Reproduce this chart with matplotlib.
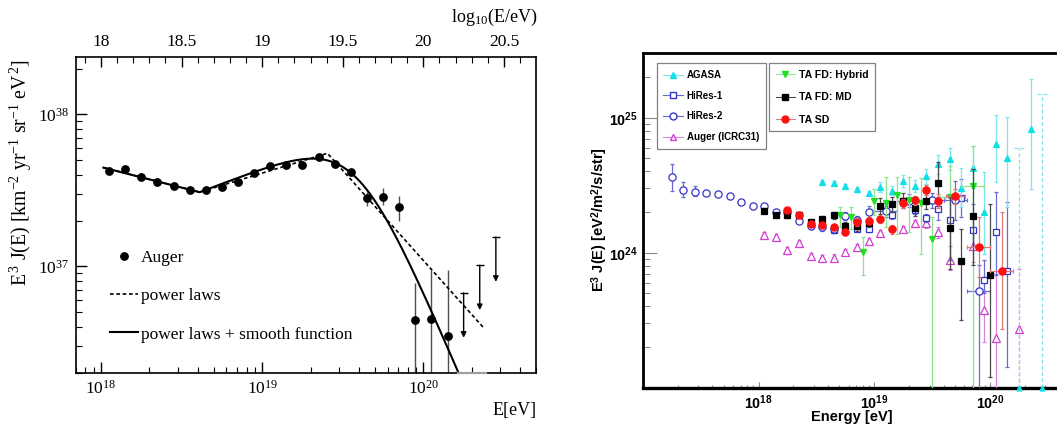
import numpy as np
import matplotlib
matplotlib.use("Agg")
import matplotlib.pyplot as plt
from matplotlib.lines import Line2D
from matplotlib.ticker import FuncFormatter, LogLocator, NullFormatter, FixedLocator
import matplotlib.transforms as mtransforms

W, H = 1057, 425
plt.rcParams.update({
    "font.family": "Liberation Serif",
    "mathtext.fontset": "custom",
    "mathtext.rm": "Liberation Serif",
    "mathtext.it": "Liberation Serif:italic",
    "mathtext.bf": "Liberation Serif:bold",
    "mathtext.sf": "Liberation Sans:bold",
})

# ---------------------------------------------------------------
# Left panel: Auger spectrum, E^3 J(E) in units of 1e37 km^-2 yr^-1 sr^-1 eV^2
# ---------------------------------------------------------------
auger_logE = [18.05, 18.15, 18.25, 18.35, 18.45, 18.55, 18.65, 18.75, 18.85, 18.95,
              19.05, 19.15, 19.25, 19.35, 19.45, 19.55, 19.65, 19.75, 19.85, 19.95,
              20.05, 20.15]
auger_flux = [4.27, 4.36, 3.90, 3.58, 3.40, 3.18, 3.20, 3.35, 3.58, 4.14,
              4.60, 4.62, 4.65, 5.27, 4.74, 4.20, 2.81, 2.88, 2.44, 0.441,
              0.452, 0.346]
auger_lo = [4.19, 4.28, 3.83, 3.51, 3.34, 3.12, 3.14, 3.29, 3.52, 4.07,
            4.53, 4.55, 4.58, 5.18, 4.66, 4.11, 2.48, 2.54, 2.00, 0.0,
            0.0, 0.0]
auger_hi = [4.35, 4.44, 3.97, 3.65, 3.46, 3.24, 3.26, 3.41, 3.64, 4.21,
            4.67, 4.69, 4.72, 5.36, 4.82, 4.29, 3.10, 3.27, 2.91, 0.778,
            0.951, 0.951]
auger_ul_logE = [20.25, 20.35, 20.45]
auger_ul = [0.668, 1.016, 1.56]

# broken power law: break points of the dashed line
bpl_logE = [18.015, 18.612, 19.405, 20.374]
bpl_flux = [4.47, 3.08, 5.55, 0.394]

# power laws + smooth suppression
ankle_logE = 18.612
ankle_flux = 3.08
gamma1 = 3.27
gamma2 = 2.59
logE_half = 19.582
log_wc = 0.15
fit_logE_range = (18.015, 20.39)

left_xticks_top = [18, 18.5, 19, 19.5, 20, 20.5]

# ---------------------------------------------------------------
# Right panel: E^3 J(E) in units of 1e24 eV^2 m^-2 s^-1 sr^-1
# ---------------------------------------------------------------
agasa_logE = [18.55, 18.65, 18.75, 18.85, 18.95, 19.05, 19.15, 19.25, 19.35, 19.45,
              19.55, 19.65, 19.75, 19.85, 19.95, 20.05, 20.15, 20.35]
agasa_val = [3.36, 3.28, 3.12, 2.94, 2.78, 3.06, 2.86, 3.40, 3.10, 3.67,
             4.56, 4.97, 3.01, 4.24, 2.00, 6.42, 5.06, 8.30]
agasa_hi = [3.45, 3.37, 3.21, 3.04, 2.88, 3.34, 3.12, 3.74, 3.43, 4.19,
            5.32, 6.00, 4.26, 6.13, 3.96, 10.4, 10.1, 19.5]
agasa_lo = [3.27, 3.19, 3.03, 2.84, 2.68, 2.81, 2.66, 3.06, 2.81, 3.24,
            3.85, 4.10, 2.18, 3.00, 0.98, 3.34, 2.18, 2.98]
agasa_ul_logE = [20.25, 20.45]
agasa_ul = [6.0, 15.1]

hires1_logE = [18.65, 18.85, 18.95, 19.15, 19.25, 19.35, 19.45, 19.55, 19.65, 19.75,
               19.85, 19.95, 20.05, 20.15]
hires1_val = [1.48, 1.51, 1.49, 1.89, 2.42, 2.06, 1.81, 2.12, 1.75, 2.55,
              1.48, 0.63, 1.42, 0.73]
hires1_hi = [1.55, 1.58, 1.56, 2.00, 2.55, 2.20, 1.95, 2.58, 2.74, 3.53,
             2.31, 0.88, 2.81, 2.37]
hires1_lo = [1.41, 1.44, 1.42, 1.78, 2.30, 1.93, 1.68, 1.74, 0.88, 1.84,
             1.10, 0.50, 0.68, 0.142]

hires2_logE = [17.25, 17.35, 17.45, 17.55, 17.65, 17.75, 17.85, 17.95, 18.05, 18.15,
               18.25, 18.35, 18.45, 18.55, 18.65, 18.75, 18.85, 18.95, 19.1, 19.3,
               19.5, 19.7, 19.9]
hires2_val = [3.61, 2.92, 2.84, 2.78, 2.72, 2.63, 2.38, 2.23, 2.22, 1.99,
              2.00, 1.73, 1.59, 1.55, 1.50, 1.87, 1.75, 1.99, 2.02, 2.42,
              2.44, 2.47, 0.52]
hires2_hi = [4.56, 3.34, 3.12, 2.90, 2.83, 2.72, 2.46, 2.31, 2.30, 2.07,
             2.08, 1.81, 1.67, 1.64, 1.60, 2.00, 1.88, 2.20, 2.20, 2.70,
             2.75, 3.40, 0.81]
hires2_lo = [2.86, 2.58, 2.61, 2.67, 2.62, 2.54, 2.30, 2.15, 2.14, 1.91,
             1.92, 1.65, 1.51, 1.46, 1.41, 1.74, 1.62, 1.80, 1.85, 2.17,
             2.14, 1.75, 0.0]
hires2_dlogE = [0, 0, 0, 0, 0, 0, 0, 0, 0, 0,
                0, 0, 0, 0, 0, 0, 0, 0, 0.1, 0.1,
                0.1, 0.1, 0.1]

augicrc_logE = [18.05, 18.15, 18.25, 18.35, 18.45, 18.55, 18.65, 18.75, 18.85, 18.95,
                19.05, 19.25, 19.35, 19.45, 19.55, 19.65, 19.85, 19.95, 20.05]
augicrc_val = [1.36, 1.31, 1.04, 1.19, 0.94, 0.91, 0.92, 1.01, 1.11, 1.23,
               1.40, 1.50, 1.66, 1.65, 1.42, 0.88, 1.13, 0.378, 0.234]
augicrc_hi = [1.42, 1.37, 1.10, 1.25, 0.99, 0.96, 0.97, 1.06, 1.16, 1.29,
              1.47, 1.58, 1.76, 1.78, 1.55, 1.12, 1.45, 0.66, 0.70]
augicrc_lo = [1.30, 1.25, 0.98, 1.13, 0.89, 0.86, 0.87, 0.96, 1.06, 1.17,
              1.33, 1.42, 1.56, 1.52, 1.29, 0.74, 0.85, 0.218, 0.0]
augicrc_zero_logE = [20.25]
augicrc_zero_val = [0.274]
augicrc_zero_hi = [0.76]

tahyb_logE = [18.7, 18.8, 18.9, 19.0, 19.1, 19.2, 19.3, 19.4, 19.5, 19.65, 19.85]
tahyb_val = [1.89, 1.84, 1.01, 2.40, 2.35, 2.69, 2.47, 2.33, 1.27, 2.58, 3.12]
tahyb_hi = [2.18, 2.18, 1.31, 2.98, 3.63, 3.63, 3.63, 3.60, 1.84, 4.38, 6.13]
tahyb_lo = [1.55, 1.51, 0.68, 1.89, 1.55, 1.38, 1.42, 0.98, 0.0, 1.55, 0.0]
tahyb_dlogE = [0, 0, 0, 0, 0, 0, 0, 0, 0, 0.085, 0.1]

tamd_logE = [18.05, 18.15, 18.25, 18.35, 18.45, 18.55, 18.65, 18.75, 18.85, 18.95,
             19.05, 19.15, 19.25, 19.35, 19.45, 19.55, 19.65, 19.75, 19.85, 20.0]
tamd_val = [2.05, 1.90, 1.89, 1.91, 1.69, 1.79, 1.89, 1.58, 1.57, 1.67,
            2.23, 2.29, 2.43, 2.14, 2.43, 3.28, 1.53, 0.87, 1.86, 0.684]
tamd_hi = [2.13, 1.98, 1.97, 1.99, 1.77, 1.88, 1.99, 1.68, 1.68, 1.80,
           2.55, 2.60, 2.75, 2.45, 2.80, 4.70, 2.58, 1.51, 4.19, 2.28]
tamd_lo = [1.97, 1.82, 1.81, 1.83, 1.61, 1.70, 1.79, 1.48, 1.46, 1.54,
           1.95, 2.00, 2.15, 1.86, 2.10, 2.44, 0.76, 0.316, 0.81, 0.120]

tasd_logE = [18.25, 18.35, 18.45, 18.55, 18.65, 18.75, 18.85, 18.95, 19.05, 19.15,
             19.25, 19.35, 19.45, 19.55, 19.7, 19.9, 20.1]
tasd_val = [2.07, 1.89, 1.64, 1.60, 1.54, 1.42, 1.68, 1.73, 1.77, 1.49,
            2.33, 2.44, 2.93, 2.43, 2.63, 1.11, 0.73]
tasd_hi = [2.15, 1.97, 1.71, 1.67, 1.61, 1.49, 1.77, 1.83, 1.88, 1.60,
           2.50, 2.62, 3.20, 2.70, 2.95, 1.84, 2.00]
tasd_lo = [1.99, 1.81, 1.57, 1.53, 1.47, 1.35, 1.59, 1.63, 1.66, 1.38,
           2.16, 2.26, 2.66, 2.16, 2.31, 0.66, 0.274]
tasd_dlogE = [0, 0, 0, 0, 0, 0, 0, 0, 0, 0,
              0, 0, 0, 0, 0.08, 0.1, 0.1]

legend1_labels = ["AGASA", "HiRes-1", "HiRes-2", "Auger (ICRC31)"]
legend2_labels = ["TA FD: Hybrid", "TA FD: MD", "TA SD"]

# ---------------------------------------------------------------
fig = plt.figure(figsize=(W / 100, H / 100), dpi=100)


def px_axes(left, top, right, bottom):
    return fig.add_axes([left / W, 1 - bottom / H, (right - left) / W, (bottom - top) / H])


# ======================= left panel =======================
ax1 = px_axes(76, 56.7, 536, 372.5)
ax1.set_xscale("log")
ax1.set_yscale("log")
ax1.set_xlim(7e17, 5e20)
ax1.set_ylim(2e36, 2.4e38)
ymin1 = ax1.get_ylim()[0]

E = 10 ** np.array(auger_logE)
F = np.array(auger_flux) * 1e37
lo = np.array(auger_lo) * 1e37
lo = np.where(lo > 0, lo, 1e30)
hi = np.array(auger_hi) * 1e37
ax1.errorbar(E, F, yerr=[F - lo, hi - F], fmt="none", ecolor="#505050",
             elinewidth=1.0, capsize=0, zorder=2)
ax1.plot(E, F, "o", color="k", ms=5.3, zorder=4)

# upper limits with downward arrows
ARROW_DEX = 0.295
for lg, ul in zip(auger_ul_logE, auger_ul):
    e = 10 ** lg
    v = ul * 1e37
    ax1.annotate("", xy=(e, v * 10 ** (-ARROW_DEX)), xytext=(e, v),
                 arrowprops=dict(arrowstyle="-|>", color="k", lw=1.0,
                                 shrinkA=0, shrinkB=0, mutation_scale=8))
    ax1.plot([e], [v], marker="_", ms=6, mew=1.0, color="k")

# broken power law
ax1.plot(10 ** np.array(bpl_logE), np.array(bpl_flux) * 1e37, color="k",
         lw=1.2, ls=(0, (2.2, 1.6)), zorder=3)


def smooth_model(lg):
    slope = np.where(lg < ankle_logE, 3 - gamma1, 3 - gamma2)
    base = ankle_flux * 10 ** (slope * (lg - ankle_logE))
    return base / (1 + np.exp((lg - logE_half) / log_wc))


lg = np.linspace(*fit_logE_range, 800)
fv = smooth_model(lg) * 1e37
inside = fv >= ymin1
ax1.plot(10 ** lg[inside], fv[inside], color="k", lw=1.5, zorder=3)
ax1.plot(10 ** lg[~inside], np.full((~inside).sum(), ymin1), color="#a0a0a0",
         lw=1.6, zorder=5, clip_on=False)

dec_fmt_serif = FuncFormatter(lambda v, p: r"$\mathrm{10^{%d}}$" % round(np.log10(v)))
ax1.xaxis.set_major_locator(LogLocator(base=10))
ax1.xaxis.set_minor_locator(LogLocator(base=10, subs=np.arange(2, 10)))
ax1.xaxis.set_major_formatter(dec_fmt_serif)
ax1.xaxis.set_minor_formatter(NullFormatter())
ax1.yaxis.set_major_locator(LogLocator(base=10))
ax1.yaxis.set_minor_locator(LogLocator(base=10, subs=np.arange(2, 10)))
ax1.yaxis.set_major_formatter(dec_fmt_serif)
ax1.yaxis.set_minor_formatter(NullFormatter())
ax1.tick_params(which="both", direction="in", top=False, right=False, labelsize=12.5)
ax1.tick_params(which="major", length=8, width=1.0, pad=5)
ax1.tick_params(which="minor", length=4, width=0.8)
for s in ax1.spines.values():
    s.set_linewidth(1.2)

# top axis in log10(E/eV)
axt = ax1.twiny()
axt.set_xscale("log")
axt.set_xlim(ax1.get_xlim())
axt.xaxis.set_major_locator(FixedLocator(10 ** np.array(left_xticks_top)))
axt.xaxis.set_minor_locator(FixedLocator(10 ** np.arange(17.9, 20.75, 0.1)))
axt.xaxis.set_major_formatter(FuncFormatter(lambda v, p: "%g" % round(np.log10(v), 1)))
axt.xaxis.set_minor_formatter(NullFormatter())
axt.tick_params(which="both", direction="in", labelsize=12.5)
axt.tick_params(which="major", length=7, width=1.0, pad=5)
axt.tick_params(which="minor", length=4, width=0.8)
for s in axt.spines.values():
    s.set_visible(False)

fig.text(537 / W, 1 - 17 / H, r"log$_{\mathrm{10}}$(E/eV)", ha="right", va="center",
         fontsize=13)
fig.text(537 / W, 1 - 411 / H, "E[eV]", ha="right", va="center", fontsize=13)
fig.text(21 / W, 1 - 173 / H,
         r"E$^{\mathrm{\,3}}$ J(E) [km$^{\mathrm{-2}}$ yr$^{\mathrm{-1}}$ sr$^{\mathrm{-1}}$ eV$^{\mathrm{\,2}}$]",
         rotation=90, ha="center", va="center", fontsize=14.2)

leg_left = ax1.legend(
    [Line2D([], [], ls="none", marker="o", color="k", ms=5.3),
     Line2D([], [], color="k", lw=1.2, ls=(0, (2.2, 1.6))),
     Line2D([], [], color="k", lw=1.5)],
    ["Auger", "power laws", "power laws + smooth function"],
    loc="upper left", bbox_to_anchor=(110 / W, 1 - 250 / H), bbox_transform=fig.transFigure,
    frameon=False, fontsize=12.5, handlelength=1.6, handletextpad=0.2,
    labelspacing=1.27, borderpad=0, borderaxespad=0)

# ======================= right panel =======================
ax2 = px_axes(642.7, 53.3, 1061, 387.7)
ax2.set_xscale("log")
ax2.set_yscale("log")
ax2.set_xlim(1e17, 10 ** 20.612)
ax2.set_ylim(1e23, 3e25)
UNIT = 1e24


def draw_series(logE, val, lo, hi, color, ecolor, marker, filled, ms,
                dlogE=None, z=3, dashed=False):
    lgE = np.asarray(logE, dtype=float)
    e = 10 ** lgE
    v = np.asarray(val) * UNIT
    l = np.asarray(lo) * UNIT
    l = np.where(l > 0, l, 1e18)
    h = np.asarray(hi) * UNIT
    xerr = None
    if dlogE is not None:
        d = np.asarray(dlogE, dtype=float)
        xerr = [e - 10 ** (lgE - d), 10 ** (lgE + d) - e]
    cont = ax2.errorbar(e, v, yerr=[v - l, h - v], xerr=xerr, fmt="none",
                        ecolor=ecolor, elinewidth=0.9, capsize=1.6, capthick=0.9,
                        zorder=z)
    if dashed:
        for bc in cont[2]:
            bc.set_linestyle((0, (3, 2)))
    ax2.plot(e, v, ls="none", marker=marker, ms=ms,
             mfc=color if filled else "white", mec=color, mew=0.9, zorder=z + 0.5)


C_AGASA, E_AGASA = "#12e0e6", "#7ee6ea"
C_HIRES, E_HIRES = "#3434c8", "#6a6ad0"
C_AUG, E_AUG = "#d43cd4", "#dc82dc"
C_HYB, E_HYB = "#22dd22", "#8ee48e"
C_MD, E_MD = "#000000", "#4a4a4a"
C_SD, E_SD = "#ff1010", "#e07a7a"

draw_series(augicrc_logE, augicrc_val, augicrc_lo, augicrc_hi, C_AUG, E_AUG, "^", False, 5.2, z=3)
draw_series(augicrc_zero_logE, augicrc_zero_val, [0.0], augicrc_zero_hi, C_AUG, E_AUG,
            "^", False, 5.2, z=3, dashed=True)
draw_series(hires1_logE, hires1_val, hires1_lo, hires1_hi, C_HIRES, E_HIRES, "s", False, 5.0, z=4)
draw_series(hires2_logE, hires2_val, hires2_lo, hires2_hi, C_HIRES, E_HIRES, "o", False, 5.2,
            dlogE=hires2_dlogE, z=4)
draw_series(agasa_logE, agasa_val, agasa_lo, agasa_hi, C_AGASA, E_AGASA, "^", True, 4.6, z=5)
draw_series(tahyb_logE, tahyb_val, tahyb_lo, tahyb_hi, C_HYB, E_HYB, "v", True, 4.8,
            dlogE=tahyb_dlogE, z=6)
draw_series(tamd_logE, tamd_val, tamd_lo, tamd_hi, C_MD, E_MD, "s", True, 4.8, z=7)
draw_series(tasd_logE, tasd_val, tasd_lo, tasd_hi, C_SD, E_SD, "o", True, 5.2,
            dlogE=tasd_dlogE, z=8)

# AGASA bins without events: dashed bars up to the limit, marker on the frame
bottom_tr = mtransforms.blended_transform_factory(ax2.transData, ax2.transAxes)
for lgv, ul in zip(agasa_ul_logE, agasa_ul):
    e = 10 ** lgv
    ax2.vlines(e, ax2.get_ylim()[0], ul * UNIT, colors=E_AGASA, lw=0.9,
               linestyles=(0, (3, 2)), zorder=5)
    ax2.hlines(ul * UNIT, 10 ** (lgv - 0.043), 10 ** (lgv + 0.043), colors=E_AGASA,
               lw=0.9, linestyles=(0, (3, 2)), zorder=5)
    ax2.plot([e], [0], transform=bottom_tr, marker="^", ms=3.5, color=C_AGASA,
             clip_on=False, zorder=5)

x_fmt_sans = FuncFormatter(
    lambda v, p: (r"$\mathsf{10^{%d}}$" % round(np.log10(v))) if v > 5e17 else "")
y_fmt_sans = FuncFormatter(
    lambda v, p: (r"$\mathsf{10^{%d}}$" % round(np.log10(v))) if v > 5e23 else "")
ax2.xaxis.set_major_locator(LogLocator(base=10))
ax2.xaxis.set_minor_locator(LogLocator(base=10, subs=np.arange(2, 10)))
ax2.xaxis.set_major_formatter(x_fmt_sans)
ax2.xaxis.set_minor_formatter(NullFormatter())
ax2.yaxis.set_major_locator(LogLocator(base=10))
ax2.yaxis.set_minor_locator(LogLocator(base=10, subs=np.arange(2, 10)))
ax2.yaxis.set_major_formatter(y_fmt_sans)
ax2.yaxis.set_minor_formatter(NullFormatter())
ax2.tick_params(which="both", direction="in", top=False, right=False, labelsize=10.3,
                color="#8a8a8a")
ax2.tick_params(axis="x", which="major", length=4.5, width=0.8, pad=4)
ax2.tick_params(axis="x", which="minor", length=2.5, width=0.8)
ax2.tick_params(axis="y", which="major", length=10, width=0.8, pad=3.4)
ax2.tick_params(axis="y", which="minor", length=5, width=0.8)
for s in ax2.spines.values():
    s.set_linewidth(2.0)
ax2.spines["bottom"].set_linewidth(2.4)

fig.text(852 / W, 1 - 417 / H, "Energy [eV]", ha="center", va="center",
         family="Liberation Sans", weight="bold", fontsize=10.5)
fig.text(599.5 / W, 1 - 220 / H,
         r"E$^{\mathsf{3}}$ J(E) [eV$^{\mathsf{2}}$/m$^{\mathsf{2}}$/s/str]",
         rotation=90, ha="center", va="center", family="Liberation Sans",
         weight="bold", fontsize=10.5)

h1 = [Line2D([], [], color=E_AGASA, lw=0.8, marker="^", ms=4.6, mfc=C_AGASA, mec=C_AGASA),
      Line2D([], [], color=E_HIRES, lw=0.8, marker="s", ms=5.0, mfc="white", mec=C_HIRES),
      Line2D([], [], color=E_HIRES, lw=0.8, marker="o", ms=5.0, mfc="white", mec=C_HIRES),
      Line2D([], [], color=E_AUG, lw=0.8, marker="^", ms=5.0, mfc="white", mec=C_AUG)]
h2 = [Line2D([], [], color=E_HYB, lw=0.8, marker="v", ms=4.8, mfc=C_HYB, mec=C_HYB),
      Line2D([], [], color=E_MD, lw=0.8, marker="s", ms=4.8, mfc=C_MD, mec=C_MD),
      Line2D([], [], color=E_SD, lw=0.8, marker="o", ms=5.0, mfc=C_SD, mec=C_SD)]

leg_prop1 = dict(family="Liberation Sans", weight="bold", size=7)
leg_prop2 = dict(family="Liberation Sans", weight="bold", size=7.6)
leg1 = ax2.legend(h1, legend1_labels, loc="upper left",
                  bbox_to_anchor=(656.7 / W, 1 - 63.3 / H), bbox_transform=fig.transFigure,
                  prop=leg_prop1, fancybox=False, edgecolor="#808080", framealpha=1,
                  borderpad=0.68, labelspacing=1.1, handlelength=2.0,
                  handletextpad=0.4, borderaxespad=0)
leg1.get_frame().set_linewidth(0.9)
ax2.add_artist(leg1)
leg2 = ax2.legend(h2, legend2_labels, loc="upper left",
                  bbox_to_anchor=(769.3 / W, 1 - 63.3 / H), bbox_transform=fig.transFigure,
                  prop=leg_prop2, fancybox=False, edgecolor="#808080", framealpha=1,
                  borderpad=0.6, labelspacing=1.2, handlelength=1.8,
                  handletextpad=0.4, borderaxespad=0)
leg2.get_frame().set_linewidth(0.9)

fig.savefig("out.png", dpi=100)
